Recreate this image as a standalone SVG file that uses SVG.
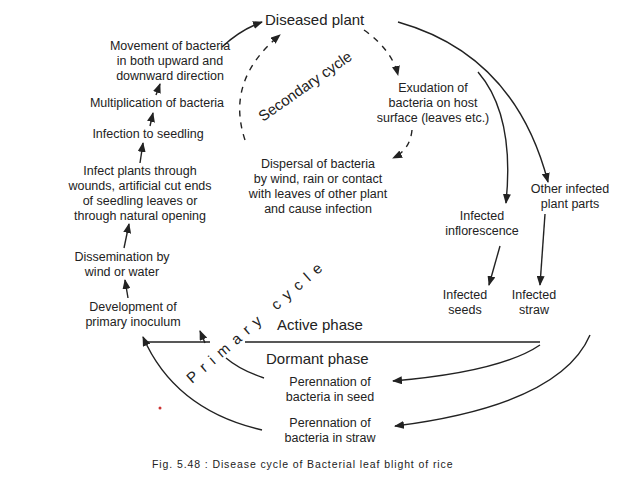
<svg xmlns="http://www.w3.org/2000/svg" width="638" height="479" viewBox="0 0 638 479">
<style>
text{font-family:"Liberation Sans",Arial,sans-serif;fill:#222;font-size:12.5px}
.c{text-anchor:middle}
.big{font-size:15px}
.ln{fill:none;stroke:#222;stroke-width:1.4}
.d{stroke-dasharray:6 6}
</style>
<defs><marker id="a" markerWidth="10" markerHeight="8" refX="9" refY="4" orient="auto" markerUnits="userSpaceOnUse"><path d="M0,0 L10,4 L0,8 z" fill="#222"/></marker></defs>
<rect width="638" height="479" fill="#fff"/>
<g id="connectors">
<path class="ln" d="M398,22 Q515,55 548,182" marker-end="url(#a)"/>
<path class="ln" d="M478,72 Q515,115 506,203" marker-end="url(#a)"/>
<path class="ln" d="M500,246 L489,285" marker-end="url(#a)"/>
<path class="ln" d="M545,214 L540,285" marker-end="url(#a)"/>
<path class="ln" d="M145,342 L210,342 M245,342 L540,342"/>
<path class="ln" d="M540,345 Q500,372 393,381" marker-end="url(#a)"/>
<path class="ln" d="M590,335 Q560,405 395,426" marker-end="url(#a)"/>
<path class="ln" d="M262,430 Q175,410 143,337" marker-end="url(#a)"/>
<path class="ln" d="M264,378 Q240,370 226,358"/>
<path class="ln" d="M205,343 L200,331" marker-end="url(#a)"/>
<path class="ln d" d="M364,30 Q392,50 398,75" marker-end="url(#a)"/>
<path class="ln d" d="M412,130 Q410,150 393,158" marker-end="url(#a)"/>
<path class="ln d" d="M245,140 Q225,80 280,35" marker-end="url(#a)"/>
<path class="ln" d="M222,47 Q240,30 262,22" marker-end="url(#a)"/>
<path class="ln" d="M156,95 L160,84" marker-end="url(#a)"/>
<path class="ln" d="M150,126 L153,113" marker-end="url(#a)"/>
<path class="ln" d="M140,163 L143,143" marker-end="url(#a)"/>
<path class="ln" d="M124,248 L129,224" marker-end="url(#a)"/>
<path class="ln" d="M128,298 L125,280" marker-end="url(#a)"/>
</g>
<g id="n-diseased"><text x="265" y="25" class="big">Diseased plant</text></g>
<g id="n-movement"><text class="c" x="170" y="50">Movement of bacteria</text><text class="c" x="170" y="65">in both upward and</text><text class="c" x="170" y="80">downward direction</text></g>
<g id="n-mult"><text class="c" x="157" y="107">Multiplication of bacteria</text></g>
<g id="n-infection"><text class="c" x="148" y="138">Infection to seedling</text></g>
<g id="n-infect"><text class="c" x="140" y="175">Infect plants through</text><text class="c" x="140" y="190">wounds, artificial cut ends</text><text class="c" x="140" y="205">of seedling leaves or</text><text class="c" x="140" y="220">through natural opening</text></g>
<g id="n-dissem"><text class="c" x="122" y="261">Dissemination by</text><text class="c" x="122" y="276">wind or water</text></g>
<g id="n-dev"><text class="c" x="133" y="311">Development of</text><text class="c" x="133" y="326">primary inoculum</text></g>
<g id="n-secondary"><text class="big" transform="translate(263,122) rotate(-35)">Secondary cycle</text></g>
<g id="n-exud"><text class="c" x="433" y="92">Exudation of</text><text class="c" x="433" y="107">bacteria on host</text><text class="c" x="433" y="122">surface (leaves etc.)</text></g>
<g id="n-dispersal"><text class="c" x="318" y="168">Dispersal of bacteria</text><text class="c" x="318" y="183">by wind, rain or contact</text><text class="c" x="318" y="198">with leaves of other plant</text><text class="c" x="318" y="213">and cause infection</text></g>
<g id="n-other"><text class="c" x="570" y="193">Other infected</text><text class="c" x="570" y="208">plant parts</text></g>
<g id="n-inflor"><text class="c" x="482" y="220">Infected</text><text class="c" x="482" y="235">inflorescence</text></g>
<g id="n-seeds"><text class="c" x="465" y="299">Infected</text><text class="c" x="465" y="314">seeds</text></g>
<g id="n-straw"><text class="c" x="534" y="299">Infected</text><text class="c" x="534" y="314">straw</text></g>
<g id="n-active"><text class="big" x="277" y="330">Active phase</text></g>
<g id="n-dormant"><text class="big" x="266" y="364">Dormant phase</text></g>
<g id="n-perseed"><text class="c" x="330" y="386">Perennation of</text><text class="c" x="330" y="401">bacteria in seed</text></g>
<g id="n-perstraw"><text class="c" x="330" y="427">Perennation of</text><text class="c" x="330" y="442">bacteria in straw</text></g>
<g id="n-primary"><text style="letter-spacing:7px;font-size:15px" transform="translate(192,384) rotate(-41)">Primary cycle</text></g>
<circle cx="160" cy="408" r="1.5" fill="#c33"/>
<text x="152" y="468" style="font-size:10.5px;letter-spacing:0.9px">Fig. 5.48 : Disease cycle of Bacterial leaf blight of rice</text>
</svg>
